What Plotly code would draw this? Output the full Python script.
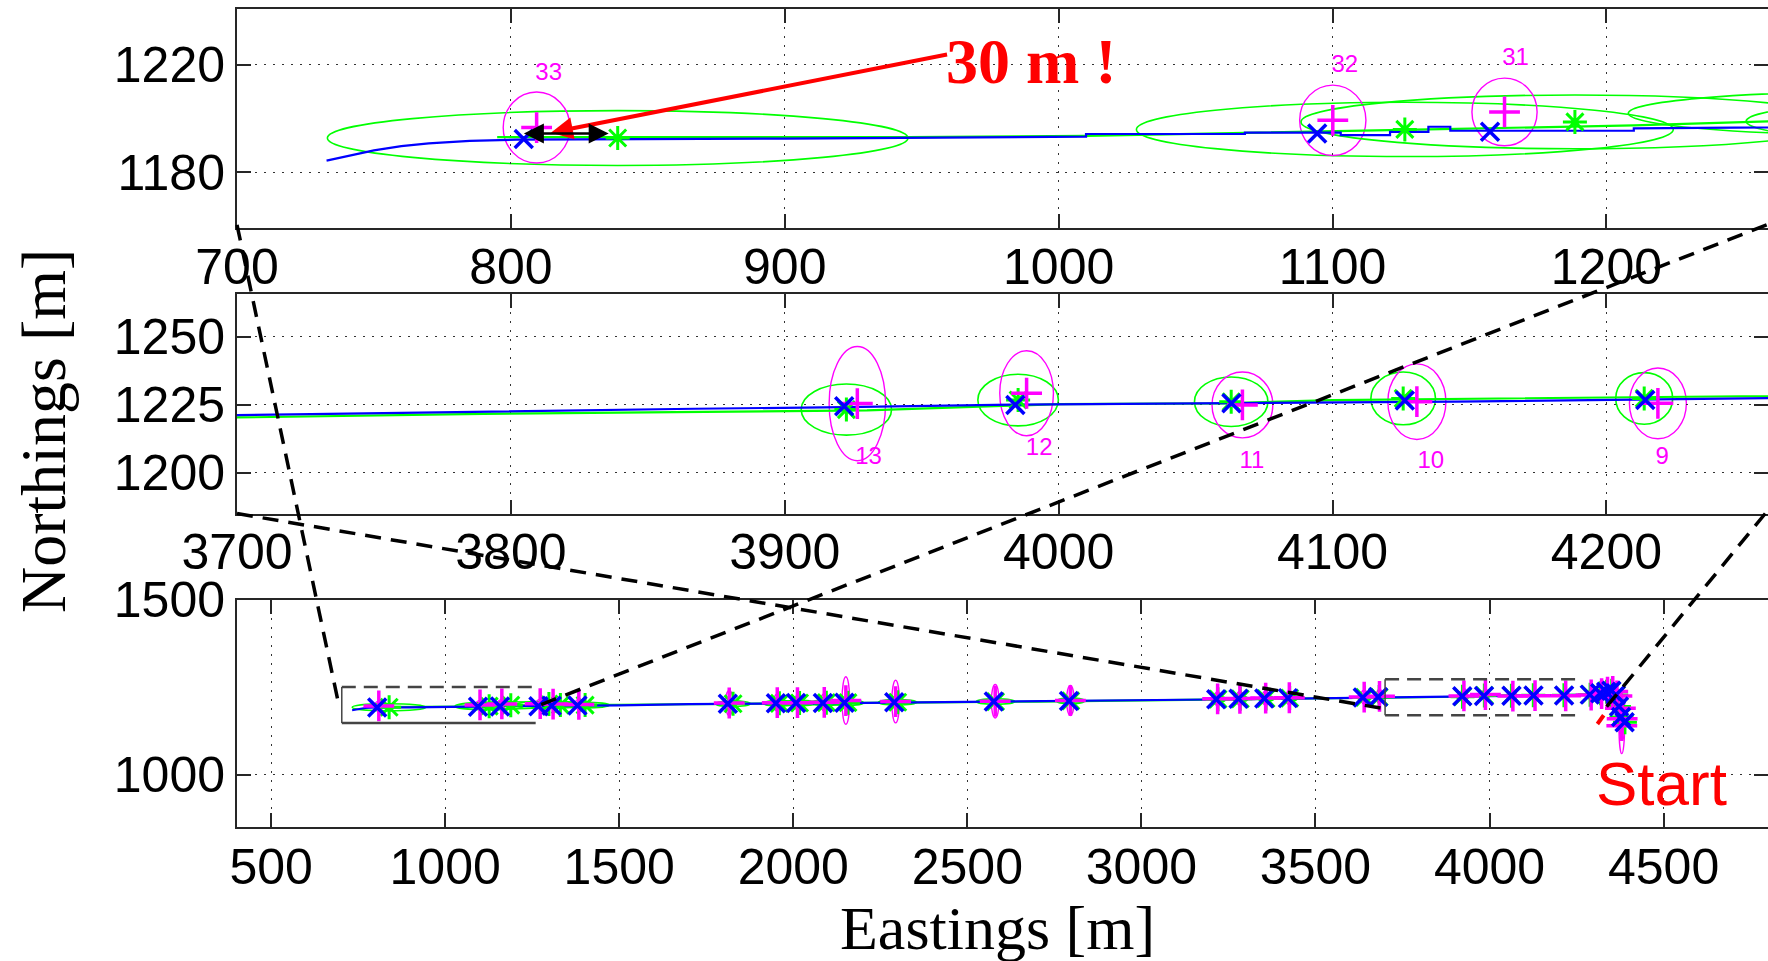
import plotly.graph_objects as go

# ---------------- data ----------------
lm_id = [33, 32, 31, 30, 29, 28, 27, 26, 25, 24, 23, 22, 21, 20, 19, 18, 17,
         16, 15, 14, 13, 12, 11, 10, 9, 8, 7, 6, 5, 4, 3, 2, 1]
# blue x : reference landmark positions
true_e = [804.7, 1094.4, 1157.5, 1268, 1306, 1380, 1812, 1950, 2008, 2085, 2147, 2290, 2576, 2792,
          3215, 3279, 3353, 3421, 3636, 3680, 3921.7, 3984.2, 4063.1, 4126.4, 4214.2, 4288,
          4318, 4335, 4350, 4363, 4372, 4378, 4388]
true_n = [1192.4, 1194.5, 1195.1, 1196, 1197, 1198, 1203, 1204, 1205, 1205, 1206, 1207, 1209, 1211,
          1216, 1217, 1218, 1219, 1221, 1222, 1224.4, 1224.9, 1225.5, 1226.5, 1226.7, 1229,
          1233, 1237, 1240, 1228, 1195, 1165, 1150]
# magenta + : estimate A with 1-sigma semi-axes
estA_e = [809.4, 1100.1, 1162.8, 1273, 1310, 1384, 1816, 1954, 2012, 2089, 2151, 2294, 2580, 2796,
          3219, 3283, 3357, 3425, 3640, 3684, 3926.5, 3988.3, 4067.1, 4130.8, 4218.8, 4292,
          4322, 4339, 4354, 4366, 4376, 4381, 4380]
estA_n = [1196.7, 1199.4, 1202.5, 1203, 1202, 1201, 1205, 1206, 1206, 1207, 1212, 1209, 1210, 1212,
          1217, 1218, 1219, 1220, 1222, 1224, 1225.4, 1229.2, 1224.9, 1226.1, 1225.5, 1228,
          1232, 1236, 1238, 1225, 1190, 1160, 1140]
estA_se = [12.2, 12.1, 11.9, 11, 11, 11, 11, 11, 11, 11, 11, 11, 11, 11, 11, 11, 11, 11, 11, 10,
           10.3, 9.8, 11.1, 10.6, 10.4, 10, 10, 10, 10, 10, 10, 9, 8]
estA_sn = [13.2, 13.1, 12.6, 13, 14, 15, 36, 25, 20, 25, 68, 61, 48, 43, 20, 20, 20, 20, 20, 20,
           21, 15.6, 12.1, 13.9, 13, 15, 15, 18, 18, 20, 30, 60, 80]
# green * : estimate B with 1-sigma semi-axes
estB_e = [839, 1126.4, 1188.5, 1298, 1331, 1402, 1827, 1960, 2018, 2095, 2157, 2300, 2581, 2797,
          3220, 3284, 3358, 3426, 3641, 3683, 3922.5, 3985.2, 4063, 4125.8, 4213.8, 4289,
          4319, 4336, 4351, 4364, 4372, 4379, 4389]
estB_n = [1192.8, 1196, 1198.8, 1202, 1199, 1199, 1203, 1204, 1205, 1206, 1206, 1207, 1209, 1211,
          1216, 1217, 1218, 1219, 1221, 1222, 1223.2, 1226.7, 1226.1, 1227.3, 1227.3, 1229,
          1233, 1237, 1240, 1228, 1195, 1165, 1150]
estB_se = [106, 98, 100, 90, 80, 70, 50, 45, 45, 45, 45, 55, 55, 40, 22, 22, 22, 22, 20, 12,
           16.5, 14.7, 13.4, 11.8, 10.4, 10, 10, 10, 10, 10, 10, 10, 10]
estB_sn = [10.2, 10.1, 10, 8, 8, 8, 8, 8, 8, 8, 8, 8, 8, 8, 8, 8, 8, 8, 8, 8,
           9.4, 9.5, 9.1, 9.7, 9.5, 9, 9, 9, 9, 9, 9, 9, 9]

# vehicle paths
path_e = [732.7, 740, 750, 760, 770, 785, 802, 900, 1010, 1010, 1068, 1068, 1103, 1103, 1121, 1121,
          1135, 1135, 1143, 1143, 1210, 1210, 1300, 1500, 1700, 2000, 2300, 2600, 2900, 3200,
          3500, 3727, 3797, 3867, 3922, 3983, 4064, 4145, 4260, 4300, 4340, 4365, 4378, 4385]
path_n = [1184.4, 1186.0, 1188.2, 1189.8, 1190.8, 1191.7, 1192.2, 1192.6, 1193.3, 1194.3, 1194.3,
          1194.8, 1194.8, 1193.9, 1193.9, 1195.1, 1195.1, 1197, 1197, 1195.5, 1195.5, 1196.4,
          1196.8, 1198.5, 1202, 1203.5, 1206, 1208, 1211, 1215, 1218.5, 1221.5, 1222.6, 1223.5,
          1224.1, 1225, 1225.6, 1226.1, 1227.4, 1229, 1232, 1225, 1190, 1150]
gpath_e = [795, 945, 1010, 1068, 1103, 1135, 1210, 1259, 1500, 1800, 2100, 2400, 2700, 3000, 3300,
           3600, 3700, 3790, 3860, 3930, 4000, 4060, 4100, 4200, 4259, 4300, 4340, 4365, 4378, 4385]
gpath_n = [1193.1, 1193.1, 1193.6, 1194.6, 1195.3, 1196, 1197.5, 1199, 1200, 1203, 1205, 1207,
           1209, 1212, 1216, 1219.5, 1220.3, 1221.6, 1222.3, 1222.9, 1225.2, 1225.5, 1226.7,
           1227.8, 1228.2, 1230, 1233, 1226, 1191, 1152]

# start pose mark
start_e = [4310, 4328]
start_n = [1145, 1170]

# labels
top_lab_txt = ["33", "32", "31"]
top_lab_e = [813.8, 1104.5, 1166.8]
top_lab_n = [1216.7, 1219.7, 1222.2]
mid_lab_txt = ["13", "12", "11", "10", "9"]
mid_lab_e = [3930.6, 3992.9, 4070.6, 4135.9, 4220.4]
mid_lab_n = [1205.5, 1208.6, 1204, 1204, 1205.3]

# panel ranges
top_xr, top_yr = [700, 1259], [1159.3, 1240.8]
mid_xr, mid_yr = [3700, 4259], [1184.8, 1265.7]
bot_xr, bot_yr = [402, 4800], [850, 1500]
top_dom, mid_dom, bot_dom = [0.7627, 0.9906], [0.4651, 0.6941], [0.1394, 0.3757]

# zoom boxes on the overview (bottom panel)
rect1_e, rect1_n = [703, 1260], [1148, 1251]
rect2_e, rect2_n = [3700, 4262], [1170, 1273]

# connector lines: (panel, e, n) -> (panel, e, n)
connectors = [
    (("top", 700, 1160.5), ("bot", 696, 1193)),
    (("top", 1258.5, 1160.5), ("bot", 1259, 1194)),
    (("mid", 4258, 1185), ("bot", 4336, 1194)),
    (("mid", 3700, 1185), ("bot", 3690, 1190)),
]

BLUE, GREEN, MAG, RED = "#0000ff", "#00ff00", "#ff00ff", "#ff0000"
SANS = "Liberation Sans, Arial, sans-serif"
SERIF = "Liberation Serif, Times New Roman, serif"

fig = go.Figure()
panels = [("x", "y"), ("x2", "y2"), ("x3", "y3")]

for xa, ya in panels:
    fig.add_trace(go.Scatter(x=gpath_e, y=gpath_n, mode="lines", line=dict(color=GREEN, width=2.2),
                             xaxis=xa, yaxis=ya, showlegend=False, hoverinfo="skip"))
    fig.add_trace(go.Scatter(x=path_e, y=path_n, mode="lines", line=dict(color=BLUE, width=2.2),
                             xaxis=xa, yaxis=ya, showlegend=False, hoverinfo="skip"))
    fig.add_trace(go.Scatter(x=estB_e, y=estB_n, mode="markers",
                             marker=dict(symbol="asterisk", size=20, line=dict(color=GREEN, width=3)),
                             xaxis=xa, yaxis=ya, showlegend=False))
    fig.add_trace(go.Scatter(x=estA_e, y=estA_n, mode="markers",
                             marker=dict(symbol="cross-thin", size=22, line=dict(color=MAG, width=3.5)),
                             xaxis=xa, yaxis=ya, showlegend=False))
    fig.add_trace(go.Scatter(x=true_e, y=true_n, mode="markers",
                             marker=dict(symbol="x-thin", size=18, line=dict(color=BLUE, width=3.5)),
                             xaxis=xa, yaxis=ya, showlegend=False))
    fig.add_trace(go.Scatter(x=start_e, y=start_n, mode="lines", line=dict(color=RED, width=4),
                             xaxis=xa, yaxis=ya, showlegend=False, hoverinfo="skip"))

fig.add_trace(go.Scatter(x=top_lab_e, y=top_lab_n, mode="text", text=top_lab_txt,
                         textfont=dict(color=MAG, size=24, family=SANS), xaxis="x", yaxis="y",
                         showlegend=False))
fig.add_trace(go.Scatter(x=mid_lab_e, y=mid_lab_n, mode="text", text=mid_lab_txt,
                         textfont=dict(color=MAG, size=24, family=SANS), xaxis="x2", yaxis="y2",
                         showlegend=False))

shapes = []
for xa, ya in panels:
    for i in range(len(lm_id)):
        shapes.append(dict(type="circle", xref=xa, yref=ya, layer="below",
                           x0=estB_e[i] - estB_se[i], x1=estB_e[i] + estB_se[i],
                           y0=estB_n[i] - estB_sn[i], y1=estB_n[i] + estB_sn[i],
                           line=dict(color=GREEN, width=1.6)))
        shapes.append(dict(type="circle", xref=xa, yref=ya, layer="below",
                           x0=estA_e[i] - estA_se[i], x1=estA_e[i] + estA_se[i],
                           y0=estA_n[i] - estA_sn[i], y1=estA_n[i] + estA_sn[i],
                           line=dict(color=MAG, width=1.4)))

# zoom rectangles on overview
GR = "#444444"
shapes += [
    dict(type="line", xref="x3", yref="y3", x0=rect1_e[0], x1=rect1_e[1], y0=rect1_n[1], y1=rect1_n[1],
         line=dict(color=GR, width=2.5, dash="14px,8px")),
    dict(type="line", xref="x3", yref="y3", x0=rect1_e[0], x1=rect1_e[1], y0=rect1_n[0], y1=rect1_n[0],
         line=dict(color=GR, width=2.5)),
    dict(type="line", xref="x3", yref="y3", x0=rect1_e[0], x1=rect1_e[0], y0=rect1_n[0], y1=rect1_n[1],
         line=dict(color=GR, width=1.5)),
    dict(type="line", xref="x3", yref="y3", x0=rect2_e[0], x1=rect2_e[1], y0=rect2_n[1], y1=rect2_n[1],
         line=dict(color=GR, width=2.5, dash="14px,8px")),
    dict(type="line", xref="x3", yref="y3", x0=rect2_e[0], x1=rect2_e[1], y0=rect2_n[0], y1=rect2_n[0],
         line=dict(color=GR, width=2.5, dash="14px,8px")),
    dict(type="line", xref="x3", yref="y3", x0=rect2_e[0], x1=rect2_e[0], y0=rect2_n[0], y1=rect2_n[1],
         line=dict(color=GR, width=1.5)),
]

geo = {"top": (top_xr, top_yr, top_dom), "mid": (mid_xr, mid_yr, mid_dom), "bot": (bot_xr, bot_yr, bot_dom)}


def to_paper(p):
    name, e, n = p
    xr, yr, dom = geo[name]
    return ((e - xr[0]) / (xr[1] - xr[0]),
            dom[0] + (n - yr[0]) / (yr[1] - yr[0]) * (dom[1] - dom[0]))


for a, b in connectors:
    (x0, y0), (x1, y1) = to_paper(a), to_paper(b)
    shapes.append(dict(type="line", xref="paper", yref="paper", x0=x0, y0=y0, x1=x1, y1=y1,
                       layer="above", line=dict(color="black", width=3.5, dash="16px,10px")))

annotations = [
    dict(x=990, y=1221.2, xref="x", yref="y", text="<b>30 m !</b>", showarrow=False,
         font=dict(family=SERIF, size=64, color=RED)),
    dict(x=814.6, y=1194.8, ax=959.8, ay=1224, xref="x", yref="y", axref="x", ayref="y",
         text="", showarrow=True, arrowhead=2, arrowsize=1.1, arrowwidth=4, arrowcolor=RED),
    dict(x=835.7, y=1194.5, ax=804.2, ay=1194.5, xref="x", yref="y", axref="x", ayref="y",
         text="", showarrow=True, arrowhead=2, startarrowhead=2, arrowside="end+start",
         arrowsize=1.6, startarrowsize=1.6, arrowwidth=2.5, arrowcolor="black"),
    dict(x=4493, y=976, xref="x3", yref="y3", text="Start", showarrow=False,
         font=dict(family=SANS, size=62, color=RED)),
    dict(x=0.497, y=0.034, xref="paper", yref="paper", text="Eastings [m]", showarrow=False,
         font=dict(family=SERIF, size=62, color="black"), xanchor="center", yanchor="middle"),
    dict(x=(43 - 237) / 1531, y=1 - 431 / 961, xref="paper", yref="paper", text="Northings [m]",
         showarrow=False, textangle=-90, font=dict(family=SERIF, size=64, color="black"),
         xanchor="center", yanchor="middle"),
]

axcommon = dict(showline=True, linecolor="#262626", linewidth=2, mirror="ticks", ticks="inside",
                ticklen=14, tickwidth=2, tickcolor="#262626", showgrid=True, gridcolor="#333333",
                gridwidth=1.3, griddash="2px,7px", zeroline=False,
                tickfont=dict(family=SANS, size=50, color="black"))

fig.update_layout(
    width=1768, height=961, margin=dict(l=237, r=0, t=0, b=0, autoexpand=False),
    paper_bgcolor="white", plot_bgcolor="white", showlegend=False,
    xaxis=dict(axcommon, domain=[0, 1], range=top_xr, anchor="y",
               tickvals=[700, 800, 900, 1000, 1100, 1200], ticklabelstandoff=-6),
    yaxis=dict(axcommon, domain=top_dom, range=top_yr, anchor="x", tickvals=[1180, 1220]),
    xaxis2=dict(axcommon, domain=[0, 1], range=mid_xr, anchor="y2",
                tickvals=[3700, 3800, 3900, 4000, 4100, 4200], ticklabelstandoff=-7),
    yaxis2=dict(axcommon, domain=mid_dom, range=mid_yr, anchor="x2", tickvals=[1200, 1225, 1250]),
    xaxis3=dict(axcommon, domain=[0, 1], range=bot_xr, anchor="y3",
                tickvals=[500, 1000, 1500, 2000, 2500, 3000, 3500, 4000, 4500], ticklabelstandoff=-5),
    yaxis3=dict(axcommon, domain=bot_dom, range=bot_yr, anchor="x3", tickvals=[1000, 1500]),
    shapes=shapes, annotations=annotations,
)

fig.write_html("out.html", config={"displayModeBar": False},
               post_script="document.body.style.margin='0';document.body.style.overflow='hidden';")
